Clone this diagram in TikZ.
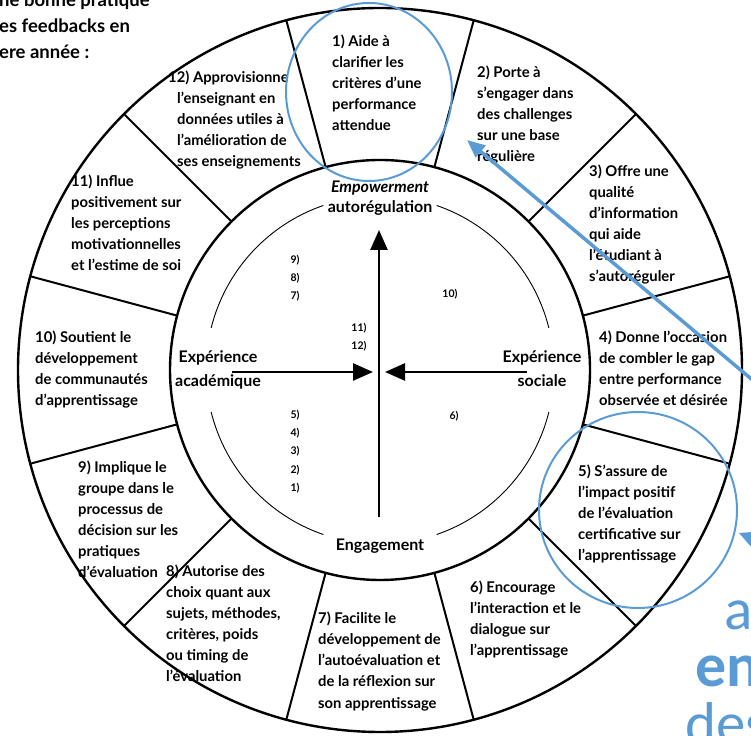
\documentclass[tikz,border=0pt]{standalone}
\usepackage{fontspec}
\setmainfont{Lato}
\newfontfamily\bluefont{Carlito}
\usetikzlibrary{arrows.meta}
\definecolor{pptblue}{RGB}{91,155,213}
\begin{document}
\begin{tikzpicture}[x=1pt,y=1pt,
  sector/.style={anchor=base west, align=left, inner sep=0pt, font=\fontsize{14.8}{21}\selectfont\bfseries},
  headtext/.style={anchor=base west, inner sep=0pt, font=\fontsize{18.5}{25}\selectfont\bfseries},
  axislabel/.style={anchor=base, inner sep=0pt, font=\fontsize{16}{18}\selectfont\bfseries},
  numlabel/.style={anchor=base, inner sep=0pt, font=\fontsize{10.5}{12}\selectfont\bfseries},
  divider/.style={line width=2pt},
  ring/.style={line width=2.4pt},
  thinarc/.style={line width=0.9pt},
  axisarrow/.style={line width=2.6pt, -{Triangle[length=20pt,width=17pt]}},
  blueoval/.style={draw=pptblue, line width=2pt},
  bluetext/.style={anchor=base west, inner sep=0pt, text=pptblue, font=\bluefont\fontsize{59}{59}\selectfont}
]
\useasboundingbox (0,0) rectangle (751,735);
\coordinate (C) at (380,365);

% rings
\draw[ring] (C) circle[radius=362];
\draw[ring] (C) circle[radius=210];
\foreach \a in {15,45,...,345}
  \draw[divider] (C) ++(\a:210) -- ++(\a:152);

% thin inner arcs
\draw[thinarc] (C) ++(14:174) arc[start angle=14, end angle=71, radius=174];
\draw[thinarc] (C) ++(109:174) arc[start angle=109, end angle=166, radius=174];
\draw[thinarc] (C) ++(194:174) arc[start angle=194, end angle=251, radius=174];
\draw[thinarc] (C) ++(289:174) arc[start angle=289, end angle=346, radius=174];

% axes
\coordinate (vb) at (379,218);
\coordinate (vt) at (379,505);
\coordinate (hl) at (232,363);
\coordinate (hlt) at (373,363);
\coordinate (hr) at (527,363);
\coordinate (hrt) at (385,363);
\draw[axisarrow] (vb) -- (vt);
\draw[axisarrow] (hl) -- (hlt);
\draw[axisarrow] (hr) -- (hrt);

% axis labels
\node[axislabel, font=\fontsize{16}{18}\selectfont\bfseries\itshape] (emp) at (380,542) {Empowerment};
\node[axislabel] (auto) at (380,522) {autorégulation};
\node[axislabel] (eng) at (380,184) {Engagement};
\node[axislabel] (expl) at (218,372) {Expérience};
\node[axislabel] (acad) at (218,348) {académique};
\node[axislabel] (expr) at (542,372) {Expérience};
\node[axislabel] (soc) at (542,348) {sociale};

% small numbers
\node[numlabel] (n9) at (295,471) {9)};
\node[numlabel] (n8) at (295,453) {8)};
\node[numlabel] (n7) at (295,435) {7)};
\node[numlabel] (n10) at (450,437) {10)};
\node[numlabel] (n11) at (359,403) {11)};
\node[numlabel] (n12) at (359,385) {12)};
\node[numlabel] (n5) at (295,316) {5)};
\node[numlabel] (n4) at (295,298) {4)};
\node[numlabel] (n3) at (295,280) {3)};
\node[numlabel] (n2) at (295,261) {2)};
\node[numlabel] (n1) at (295,243) {1)};
\node[numlabel] (n6) at (454,315) {6)};

% sector texts (anchor = baseline of last line)
\node[sector] (s1) at (332,604) {1) Aide à\\clarifier les\\critères d'une\\performance\\attendue};
\node[sector] (s2) at (477,573) {2) Porte à\\s'engager dans\\des challenges\\sur une base\\régulière};
\node[sector] (s3) at (589,453) {3) Offre une\\qualité\\d'information\\qui aide\\l'étudiant à\\s'autoréguler};
\node[sector] (s4) at (599,329) {4) Donne l'occasion\\de combler le gap\\entre performance\\observée et désirée};
\node[sector] (s5) at (578,174) {5) S'assure de\\l'impact positif\\de l'évaluation\\certificative sur\\l'apprentissage};
\node[sector] (s6) at (470,79) {6) Encourage\\l'interaction et le\\dialogue sur\\l'apprentissage};
\node[sector] (s7) at (318,27) {7) Facilite le\\développement de\\l'autoévaluation et\\de la réflexion sur\\son apprentissage};
\node[sector] (s8) at (166,53) {8) Autorise des\\choix quant aux\\sujets, méthodes,\\critères, poids\\ou timing de\\l'évaluation};
\node[sector] (s9) at (78,157) {9) Implique le\\groupe dans le\\processus de\\décision sur les\\pratiques\\d'évaluation};
\node[sector] (s10) at (35,329) {10) Soutient le\\développement\\de communautés\\d'apprentissage};
\node[sector] (s11) at (71,464) {11) Influe\\positivement sur\\les perceptions\\motivationnelles\\et l'estime de soi};
\node[sector] (s12) at (168,568) {12) Approvisionne\\\hspace*{9pt}l'enseignant en\\\hspace*{9pt}données utiles à\\\hspace*{9pt}l'amélioration de\\\hspace*{9pt}ses enseignements};

% top-left cut text
\node[headtext] (t1) at (-1,728) {ne bonne pratique};
\node[headtext] (t2) at (-1,702) {es feedbacks en};
\node[headtext] (t3) at (-1,676) {ere année :};

% blue overlays
\coordinate (e1) at (369,643);
\coordinate (e2) at (638,225);
\draw[blueoval] (e1) ellipse[x radius=83, y radius=89];
\draw[blueoval] (e2) ellipse[x radius=99, y radius=98];
\coordinate (bt) at (762,347);
\coordinate (bh) at (467,595);
\draw[pptblue, line width=3.5pt, -{Triangle[length=18pt,width=15pt]}] (bt) -- (bh);
\fill[pptblue] (739,202) -- (753,203) -- (753,186) -- cycle;

\node[bluetext] (ba) at (724,105) {a};
\node[bluetext, font=\bluefont\fontsize{62}{62}\selectfont\bfseries] (ben) at (695,48) {en};
\node[bluetext] (bdes) at (685,-9) {des};
\end{tikzpicture}
\end{document}
